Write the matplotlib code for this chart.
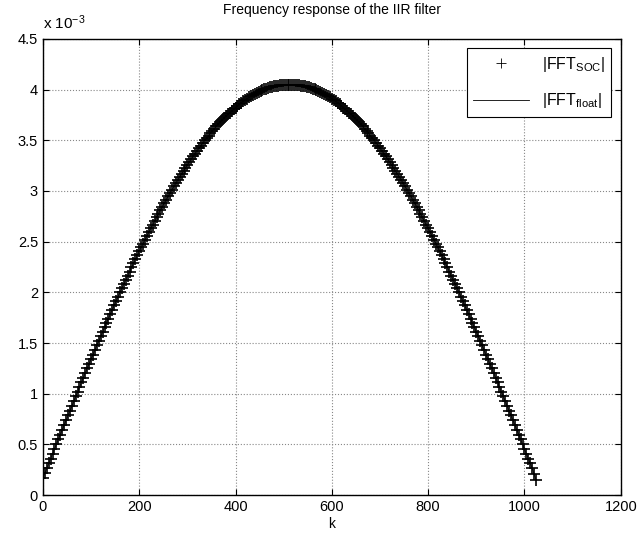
import matplotlib
matplotlib.use("Agg")
import matplotlib.pyplot as plt
import numpy as np

plt.rcParams['font.family'] = ['Liberation Sans', 'DejaVu Sans']
plt.rcParams['mathtext.fontset'] = 'custom'
plt.rcParams['mathtext.rm'] = 'Liberation Sans'
plt.rcParams['mathtext.it'] = 'Liberation Sans'
plt.rcParams['mathtext.default'] = 'rm'

# frequency bins (every 4th bin)
k = np.arange(0, 1025, 4)

# |FFT| magnitude, units of 1e-3
fft_float = [
    0.170, 0.218, 0.265, 0.313, 0.360, 0.408, 0.455, 0.503, 0.550, 0.598,
    0.645, 0.692, 0.739, 0.786, 0.833, 0.880, 0.927, 0.974, 1.020, 1.067,
    1.113, 1.159, 1.205, 1.251, 1.296, 1.342, 1.387, 1.432, 1.477, 1.522,
    1.566, 1.611, 1.655, 1.699, 1.742, 1.786, 1.829, 1.872, 1.914, 1.957,
    1.999, 2.041, 2.082, 2.124, 2.165, 2.205, 2.246, 2.286, 2.326, 2.365,
    2.404, 2.443, 2.481, 2.519, 2.557, 2.594, 2.631, 2.668, 2.704, 2.740,
    2.776, 2.811, 2.845, 2.880, 2.914, 2.947, 2.980, 3.013, 3.045, 3.077,
    3.108, 3.139, 3.169, 3.199, 3.229, 3.258, 3.286, 3.315, 3.342, 3.369,
    3.396, 3.422, 3.448, 3.473, 3.498, 3.522, 3.546, 3.569, 3.592, 3.614,
    3.636, 3.657, 3.678, 3.698, 3.717, 3.736, 3.755, 3.773, 3.790, 3.807,
    3.823, 3.839, 3.854, 3.869, 3.883, 3.896, 3.909, 3.922, 3.934, 3.945,
    3.956, 3.966, 3.975, 3.984, 3.993, 4.001, 4.008, 4.015, 4.021, 4.026,
    4.031, 4.036, 4.039, 4.043, 4.045, 4.047, 4.049, 4.050, 4.050,
    4.050, 4.049, 4.047, 4.045, 4.043, 4.039, 4.036, 4.031,
    4.026, 4.021, 4.015, 4.008, 4.001, 3.993, 3.984, 3.975, 3.966, 3.956,
    3.945, 3.934, 3.922, 3.909, 3.896, 3.883, 3.869, 3.854, 3.839, 3.823,
    3.807, 3.790, 3.773, 3.755, 3.736, 3.717, 3.698, 3.678, 3.657, 3.636,
    3.614, 3.592, 3.569, 3.546, 3.522, 3.498, 3.473, 3.448, 3.422, 3.396,
    3.369, 3.342, 3.315, 3.286, 3.258, 3.229, 3.199, 3.169, 3.139, 3.108,
    3.077, 3.045, 3.013, 2.980, 2.947, 2.914, 2.880, 2.845, 2.811, 2.776,
    2.740, 2.704, 2.668, 2.631, 2.594, 2.557, 2.519, 2.481, 2.443, 2.404,
    2.365, 2.326, 2.286, 2.246, 2.205, 2.165, 2.124, 2.082, 2.041, 1.999,
    1.957, 1.914, 1.872, 1.829, 1.786, 1.742, 1.699, 1.655, 1.611, 1.566,
    1.522, 1.477, 1.432, 1.387, 1.342, 1.296, 1.251, 1.205, 1.159, 1.113,
    1.067, 1.020, 0.974, 0.927, 0.880, 0.833, 0.786, 0.739, 0.692, 0.645,
    0.598, 0.550, 0.503, 0.455, 0.408, 0.360, 0.313, 0.265, 0.210, 0.150,
]
fft_soc = fft_float

x_ticks = [0, 200, 400, 600, 800, 1000, 1200]
y_ticks = [0, 0.5, 1, 1.5, 2, 2.5, 3, 3.5, 4, 4.5]
y_labels = ['0', '0.5', '1', '1.5', '2', '2.5', '3', '3.5', '4', '4.5']

fig = plt.figure(figsize=(6.4, 5.4), dpi=100)
ax = fig.add_axes([0.067, 0.083, 0.903, 0.845])

ax.plot(k, fft_soc, linestyle='none', marker='+', color='k',
        markersize=9, markeredgewidth=1.2, label='|FFT$_{SOC}$|')
ax.plot(k, fft_float, color='k', linewidth=0.6, label='|FFT$_{float}$|')

ax.set_xlim(0, 1200)
ax.set_ylim(0, 4.5)
ax.set_xticks(x_ticks)
ax.set_yticks(y_ticks)
ax.set_yticklabels(y_labels)
ax.tick_params(direction='in', top=True, right=True, labelsize=10.5, length=4)
ax.grid(True, linestyle=':', color='#888888', linewidth=0.8)
for s in ax.spines.values():
    s.set_linewidth(1.0)

ax.set_title('Frequency response of the IIR filter', fontsize=10, pad=18)
ax.set_xlabel('k', fontsize=10, labelpad=2)
ax.text(0.0, 1.015, 'x 10$^{-3}$', transform=ax.transAxes, fontsize=11,
        ha='left', va='bottom')

leg = ax.legend(loc='upper right', fontsize=11.5, fancybox=False, framealpha=1,
                edgecolor='k', handlelength=3.5, borderaxespad=0.6,
                labelspacing=1.1, markerscale=0.8)
leg.get_frame().set_linewidth(0.8)
leg.legend_handles[0].set_markeredgewidth(0.6)

fig.savefig('out.png', dpi=100)
